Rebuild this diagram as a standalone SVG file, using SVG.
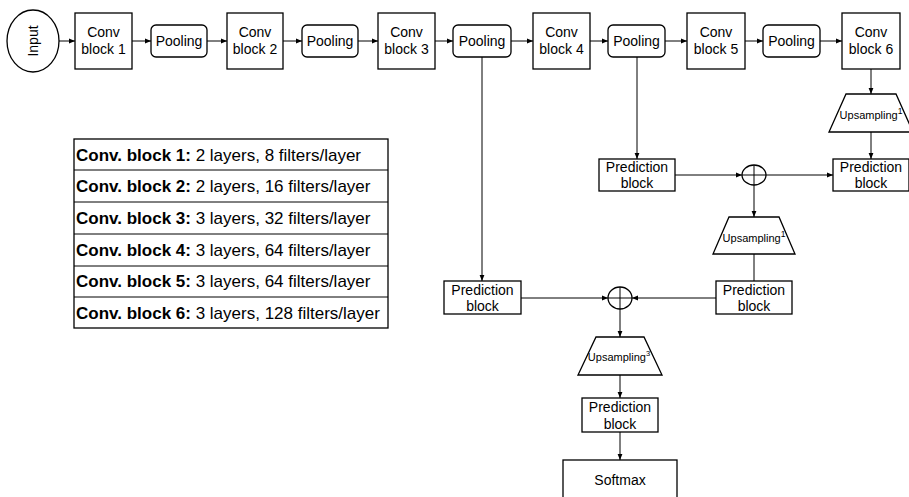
<svg xmlns="http://www.w3.org/2000/svg" width="909" height="497" viewBox="0 0 909 497">
<defs>
<marker id="ah" viewBox="0 0 10 10" refX="10" refY="5" markerWidth="6" markerHeight="6" orient="auto" markerUnits="userSpaceOnUse"><path d="M0,1 L10,5 L0,9 Z" fill="#000"/></marker>
<style>
.box{fill:#fff;stroke:#000;stroke-width:1.3}
.t{font-family:"Liberation Sans",Arial,sans-serif;font-size:14px;fill:#000;text-anchor:middle}
.u{font-family:"Liberation Sans",Arial,sans-serif;font-size:11px;fill:#000;text-anchor:middle}
.c{stroke:#000;stroke-width:1;fill:none;marker-end:url(#ah)}
.l{stroke:#000;stroke-width:1;fill:none}
.tb{font-family:"Liberation Sans",Arial,sans-serif;font-size:17px;fill:#000}
</style>
</defs>
<g id="connectors">
<line class="c" x1="59" y1="41" x2="75" y2="41"/>
<line class="c" x1="132" y1="41" x2="151" y2="41"/>
<line class="c" x1="207" y1="41" x2="227" y2="41"/>
<line class="c" x1="283" y1="41" x2="302" y2="41"/>
<line class="c" x1="358" y1="41" x2="378" y2="41"/>
<line class="c" x1="435" y1="41" x2="453" y2="41"/>
<line class="c" x1="511" y1="41" x2="533" y2="41"/>
<line class="c" x1="590" y1="41" x2="608" y2="41"/>
<line class="c" x1="665" y1="41" x2="687" y2="41"/>
<line class="c" x1="745" y1="41" x2="763" y2="41"/>
<line class="c" x1="820" y1="41" x2="842" y2="41"/>
<line class="c" x1="482" y1="57" x2="482" y2="281"/>
<line class="c" x1="637" y1="57" x2="637" y2="159"/>
<line class="c" x1="871" y1="69" x2="871" y2="94"/>
<line class="c" x1="871" y1="132" x2="871" y2="159"/>
<line class="c" x1="675" y1="175" x2="742" y2="175"/>
<line class="c" x1="765" y1="175" x2="833" y2="175"/>
<line class="c" x1="754" y1="185" x2="754" y2="217"/>
<line class="l" x1="754" y1="254" x2="754" y2="281"/>
<line class="c" x1="521" y1="298" x2="608" y2="298"/>
<line class="c" x1="716" y1="298" x2="632" y2="298"/>
<line class="c" x1="620" y1="309" x2="620" y2="337"/>
<line class="c" x1="620" y1="375" x2="620" y2="398"/>
<line class="c" x1="620" y1="432" x2="620" y2="460"/>
</g>
<g id="input"><ellipse class="box" cx="33" cy="41" rx="26" ry="31"/><text class="t" transform="translate(38,41) rotate(-90)" font-size="12.5">Input</text></g>
<g id="conv1"><rect class="box" x="75" y="13" width="57" height="56"/><text class="t" x="103.5" y="37">Conv</text><text class="t" x="103.5" y="54">block 1</text></g>
<g id="pool1"><rect class="box" x="151" y="25" width="56" height="32" rx="5"/><text class="t" x="179" y="46">Pooling</text></g>
<g id="conv2"><rect class="box" x="227" y="13" width="56" height="56"/><text class="t" x="255" y="37">Conv</text><text class="t" x="255" y="54">block 2</text></g>
<g id="pool2"><rect class="box" x="302" y="25" width="56" height="32" rx="5"/><text class="t" x="330" y="46">Pooling</text></g>
<g id="conv3"><rect class="box" x="378" y="13" width="57" height="56"/><text class="t" x="406.5" y="37">Conv</text><text class="t" x="406.5" y="54">block 3</text></g>
<g id="pool3"><rect class="box" x="453" y="25" width="58" height="32" rx="5"/><text class="t" x="482" y="46">Pooling</text></g>
<g id="conv4"><rect class="box" x="533" y="13" width="57" height="56"/><text class="t" x="561.5" y="37">Conv</text><text class="t" x="561.5" y="54">block 4</text></g>
<g id="pool4"><rect class="box" x="608" y="25" width="57" height="32" rx="5"/><text class="t" x="636.5" y="46">Pooling</text></g>
<g id="conv5"><rect class="box" x="687" y="13" width="58" height="56"/><text class="t" x="716" y="37">Conv</text><text class="t" x="716" y="54">block 5</text></g>
<g id="pool5"><rect class="box" x="763" y="25" width="57" height="32" rx="5"/><text class="t" x="791.5" y="46">Pooling</text></g>
<g id="conv6"><rect class="box" x="842" y="13" width="58" height="56"/><text class="t" x="871" y="37">Conv</text><text class="t" x="871" y="54">block 6</text></g>
<g id="up1"><polygon class="box" points="846,94 896,94 913,132 829,132"/><text class="u" x="871" y="119">Upsampling<tspan font-size="8.5" dy="-5">1</tspan></text></g>
<g id="predR"><rect class="box" x="833" y="159" width="76" height="32"/><text class="t" x="871" y="172">Prediction</text><text class="t" x="871" y="188">block</text></g>
<g id="predM"><rect class="box" x="599" y="159" width="76" height="32"/><text class="t" x="637" y="172">Prediction</text><text class="t" x="637" y="188">block</text></g>
<g id="sum1"><ellipse class="box" cx="754" cy="175" rx="12" ry="10"/><line class="l" x1="742" y1="175" x2="766" y2="175"/><line class="l" x1="754" y1="165" x2="754" y2="185"/></g>
<g id="up2"><polygon class="box" points="729,217 779,217 795,254 713,254"/><text class="u" x="754" y="242">Upsampling<tspan font-size="8.5" dy="-5">1</tspan></text></g>
<g id="predBR"><rect class="box" x="716" y="281" width="76" height="33"/><text class="t" x="754" y="295">Prediction</text><text class="t" x="754" y="311">block</text></g>
<g id="predL"><rect class="box" x="444" y="281" width="77" height="33"/><text class="t" x="482.5" y="295">Prediction</text><text class="t" x="482.5" y="311">block</text></g>
<g id="sum2"><ellipse class="box" cx="620" cy="298" rx="12" ry="11"/><line class="l" x1="608" y1="298" x2="632" y2="298"/><line class="l" x1="620" y1="287" x2="620" y2="309"/></g>
<g id="up3"><polygon class="box" points="596,337 644,337 662,375 578,375"/><text class="u" x="619" y="361">Upsampling<tspan font-size="7.5" dy="-5">3</tspan></text></g>
<g id="predF"><rect class="box" x="582" y="398" width="76" height="34"/><text class="t" x="620" y="412">Prediction</text><text class="t" x="620" y="429">block</text></g>
<g id="softmax"><rect class="box" x="563" y="460" width="114" height="50"/><text class="t" x="620" y="485">Softmax</text></g>
<g id="table">
<rect class="box" x="74" y="139" width="314" height="189"/>
<line class="l" x1="74" y1="170" x2="388" y2="170"/>
<line class="l" x1="74" y1="202" x2="388" y2="202"/>
<line class="l" x1="74" y1="234" x2="388" y2="234"/>
<line class="l" x1="74" y1="266" x2="388" y2="266"/>
<line class="l" x1="74" y1="297" x2="388" y2="297"/>
<text class="tb" x="76" y="161"><tspan font-weight="bold">Conv. block 1:</tspan> 2 layers, 8 filters/layer</text>
<text class="tb" x="76" y="192"><tspan font-weight="bold">Conv. block 2:</tspan> 2 layers, 16 filters/layer</text>
<text class="tb" x="76" y="224"><tspan font-weight="bold">Conv. block 3:</tspan> 3 layers, 32 filters/layer</text>
<text class="tb" x="76" y="256"><tspan font-weight="bold">Conv. block 4:</tspan> 3 layers, 64 filters/layer</text>
<text class="tb" x="76" y="287"><tspan font-weight="bold">Conv. block 5:</tspan> 3 layers, 64 filters/layer</text>
<text class="tb" x="76" y="319"><tspan font-weight="bold">Conv. block 6:</tspan> 3 layers, 128 filters/layer</text>
</g>
</svg>
